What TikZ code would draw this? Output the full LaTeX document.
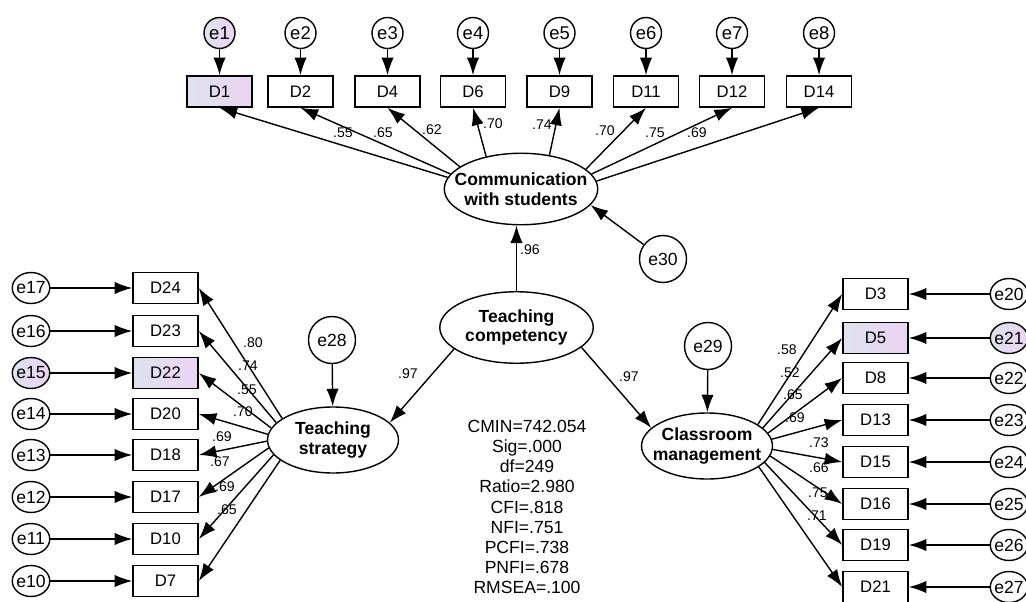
\documentclass[tikz,border=0pt]{standalone}
\usepackage{fontspec}
\setmainfont{Liberation Sans}
\usetikzlibrary{shapes.geometric,arrows.meta}
\definecolor{markleft}{RGB}{221,226,238}
\definecolor{markright}{RGB}{236,211,243}

\begin{document}
\begin{tikzpicture}[x=0.02cm,y=-0.02cm,line width=0.8pt,-{Latex[length=10pt,width=7pt]}]
    \tikzstyle{plain}=[]
    \tikzstyle{marked}=[left color=markleft,right color=markright]
    \tikzstyle{item}=[rectangle,draw=black,fill=white,line width=0.9pt,minimum width=1.3cm,minimum height=0.62cm,inner sep=0pt,font=\fontsize{9.5}{11}\selectfont]
    \tikzstyle{err}=[circle,draw=black,fill=white,minimum size=0.62cm,inner sep=0pt,font=\fontsize{10.5}{12}\selectfont]
    \tikzstyle{sideerr}=[ellipse,draw=black,fill=white,minimum width=0.75cm,minimum height=0.62cm,inner xsep=-3pt,inner ysep=0pt,font=\fontsize{10}{12}\selectfont]
    \tikzstyle{bigerr}=[circle,draw=black,fill=white,minimum size=0.94cm,inner sep=0pt,font=\fontsize{10}{12}\selectfont]
    \tikzstyle{latent}=[ellipse,draw=black,fill=white,inner sep=0pt,minimum width=3.07cm,minimum height=1.43cm]
    \tikzstyle{factor}=[latent,minimum width=2.62cm,minimum height=1.32cm]
    \tikzstyle{lattext}=[font=\bfseries\fontsize{10}{11.3}\selectfont,align=center,inner sep=0pt]
    \tikzstyle{coef}=[font=\fontsize{8}{9}\selectfont,inner sep=0pt]
    \tikzstyle{stats}=[font=\fontsize{10}{11.5}\selectfont,align=center,inner sep=0pt]

    \useasboundingbox (0,0) rectangle (1026,601);

    \node[latent] (comm) at (521,189) {};
    \node[lattext] (comm-t) at (comm) {Communication\\with students};
    \node[latent] (comp) at (516.5,327.5) {};
    \node[lattext] (comp-t) at (comp) {Teaching\\competency};
    \node[factor] (ts) at (333,440) {};
    \node[lattext] (ts-t) at (ts) {Teaching\\strategy};
    \node[factor] (cm) at (707,446) {};
    \node[lattext] (cm-t) at (cm) {Classroom\\management};

    \node[bigerr] (E-28) at (332,340) {e28};
    \node[bigerr] (E-29) at (708,346) {e29};
    \node[bigerr] (E-30) at (663,259) {e30};

    \foreach \e/\num/\x/\a/\st in {1/1/219.5/171/marked, 2/2/300.5/168/plain, 3/4/387.5/160/plain, 4/6/473/137/plain, 5/9/559.5/50/plain, 6/11/646/17/plain, 7/12/732/12/plain, 8/14/819/6/plain}
    {
        \node[item,\st] (D-\num) at (\x,91.5) {D\num};
        \node[err,\st] (E-\e) at (\x,33) {e\e};
        \draw (E-\e) -- (D-\num);
        \draw (comm.\a) -- (D-\num.south);
    }

    \foreach \e/\num/\y/\a/\st in {17/24/288/157/plain, 16/23/331/163/plain, 15/22/373/169/marked, 14/20/414/175/plain, 13/18/455/181/plain, 12/17/497/187/plain, 11/10/539/194/plain, 10/7/581/201/plain}
    {
        \node[item,\st] (D-\num) at (165.5,\y) {D\num};
        \node[sideerr,\st] (E-\e) at (31,\y) {e\e};
        \draw (E-\e) -- (D-\num);
        \draw (ts.\a) -- (D-\num.east);
    }

    \foreach \e/\num/\y/\a/\st in {20/3/294/23/plain, 21/5/338/18/marked, 22/8/378/12/plain, 23/13/420/6/plain, 24/15/462/-3/plain, 25/16/504/-9/plain, 26/19/545/-16/plain, 27/21/587/-22/plain}
    {
        \node[item,\st] (D-\num) at (875.5,\y) {D\num};
        \node[sideerr,\st] (E-\e) at (1009,\y) {e\e};
        \draw (E-\e) -- (D-\num);
        \draw (cm.\a) -- (D-\num.west);
    }

    \draw (comp) -- (comp |- comm.south);
    \draw (comp.199) -- (ts.17);
    \draw (comp.-17) -- (cm.162);
    \draw (E-28) -- (ts);
    \draw (E-29) -- (cm);
    \draw (E-30) -- (comm.-13);

    \foreach \i/\x/\y/\t in {1/343/133/.55, 2/383/133/.65, 3/432/130/.62, 4/493/124/.70, 5/542/125/.74, 6/605/131/.70, 7/655/133/.75, 8/697/133/.69, 9/530/250/.96, 10/408/374/.97, 11/629/377/.97, 12/253/343/.80, 13/248/366/.74, 14/247/390/.55, 15/243/412/.70, 16/222/437/.69, 17/220/462/.67, 18/225/487/.69, 19/227/510/.65, 20/787/350/.58, 21/790/373/.52, 22/793/395/.65, 23/795/418/.69, 24/819/443/.73, 25/819/468/.66, 26/818/493/.75, 27/817/516/.71}
        \node[coef] (c-\i) at (\x,\y) {\t};

    \node[stats] (fit) at (527,507) {CMIN=742.054\\Sig=.000\\df=249\\Ratio=2.980\\CFI=.818\\NFI=.751\\PCFI=.738\\PNFI=.678\\RMSEA=.100};
\end{tikzpicture}
\end{document}
